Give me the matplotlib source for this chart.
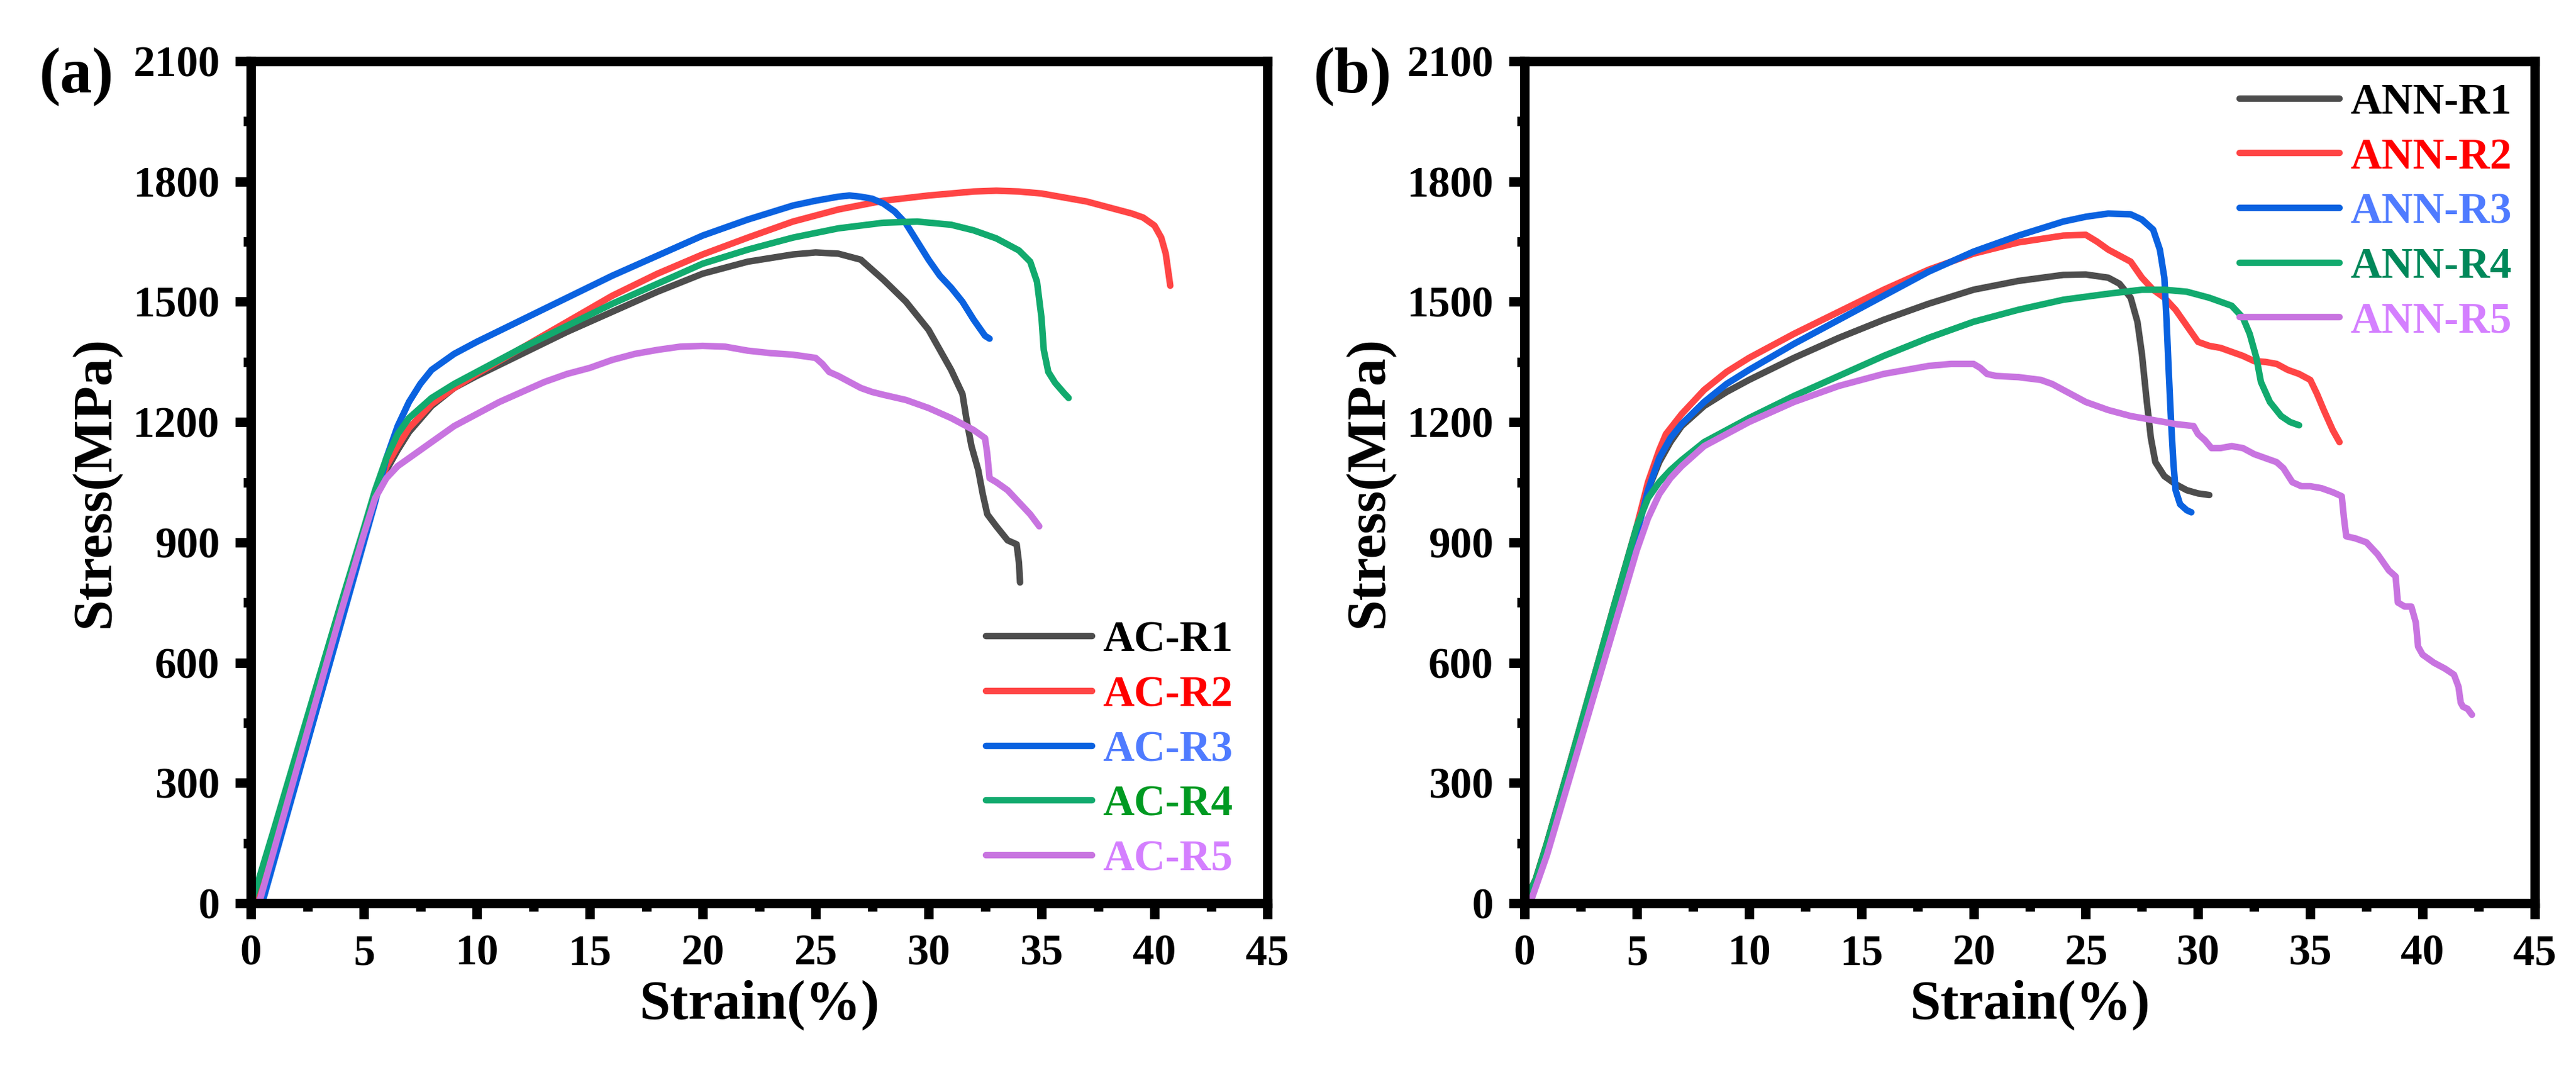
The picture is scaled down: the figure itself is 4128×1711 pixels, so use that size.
import numpy as np
import matplotlib
matplotlib.use('Agg')
import matplotlib.pyplot as plt
from matplotlib.ticker import MultipleLocator

plt.rcParams['font.family'] = ['Liberation Serif', 'DejaVu Serif']
plt.rcParams['font.weight'] = 'bold'

# ---- panel (a): as-cast samples ----
ac_r1_x = [0.2, 0.5, 1, 2, 3, 4, 5, 5.5, 6, 6.5, 7, 8, 9, 10, 12, 14, 16, 18, 20, 22, 24, 25, 26, 27, 27.5,
           28, 29, 30, 30.5, 31, 31.5, 31.7, 31.9, 32.2, 32.4, 32.6, 33, 33.5, 33.9, 34.0, 34.05]
ac_r1_y = [0, 40, 130, 325, 520, 715, 910, 1010, 1080, 1130, 1175, 1240, 1285, 1315, 1370, 1425, 1475, 1525, 1570,
           1600, 1618, 1623, 1620, 1605, 1580, 1555, 1500, 1430, 1380, 1330, 1270, 1200, 1140, 1080, 1020, 970,
           940, 905, 895, 850, 800]

ac_r2_x = [0.2, 0.5, 1, 2, 3, 4, 5, 5.5, 6, 6.5, 7, 8, 9, 10, 12, 14, 16, 18, 20, 22, 24, 26, 28, 30, 32, 33,
           34, 35, 36, 37, 38, 39, 39.5, 40, 40.3, 40.5, 40.6, 40.7]
ac_r2_y = [0, 40, 130, 325, 520, 715, 910, 1010, 1090, 1140, 1185, 1245, 1285, 1320, 1385, 1450, 1515, 1570, 1618,
           1660, 1700, 1730, 1752, 1765, 1775, 1777, 1775, 1770, 1760, 1750, 1735, 1720, 1710, 1690, 1660, 1620,
           1580, 1540]

ac_r3_x = [0.5, 1, 2, 3, 4, 5, 5.5, 6, 6.5, 7, 7.5, 8, 9, 10, 12, 14, 16, 18, 20, 22, 24, 25, 26, 26.5, 27,
           27.5, 28, 28.5, 29, 29.5, 30, 30.5, 31, 31.5, 32, 32.5, 32.7]
ac_r3_y = [0, 100, 300, 500, 700, 900, 1000, 1110, 1190, 1250, 1295, 1330, 1370, 1400, 1455, 1510, 1565, 1615,
           1665, 1705, 1740, 1752, 1762, 1765, 1762, 1757, 1745, 1725, 1695, 1650, 1605, 1565, 1535, 1500, 1455,
           1415, 1408]

ac_r4_x = [0, 0.3, 1, 2, 3, 4, 5, 5.5, 6, 6.5, 7, 8, 9, 10, 12, 14, 16, 18, 20, 22, 24, 26, 28, 29.5, 31, 32,
           33, 34, 34.5, 34.8, 35.0, 35.1, 35.3, 35.6, 36.0, 36.2]
ac_r4_y = [0, 50, 180, 370, 560, 750, 935, 1030, 1110, 1170, 1210, 1260, 1295, 1325, 1385, 1440, 1495, 1545, 1595,
           1630, 1660, 1683, 1697, 1700, 1692, 1678, 1658, 1628, 1600, 1550, 1460, 1380, 1325, 1298, 1272, 1260]

ac_r5_x = [0.36, 1, 2, 3, 4, 5, 5.5, 6, 6.5, 7, 8, 9, 10, 11, 12, 13, 14, 15, 16, 17, 18, 19, 20, 21, 22, 23,
           24, 25, 25.3, 25.6, 26, 26.5, 27, 27.5, 28, 29, 30, 31, 32, 32.5, 32.6, 32.7, 33, 33.5, 34, 34.5, 34.9]
ac_r5_y = [0, 128, 328, 528, 728, 920, 1010, 1060, 1090, 1110, 1150, 1190, 1220, 1250, 1275, 1300, 1320, 1335,
           1355, 1370, 1380, 1388, 1390, 1388, 1378, 1372, 1368, 1360, 1345, 1325, 1315, 1300, 1285, 1275, 1268,
           1255, 1235, 1210, 1180, 1160, 1120, 1060, 1050, 1030, 1000, 970, 940]

# ---- panel (b): annealed samples ----
ann_r1_x = [0, 0.5, 1, 2, 3, 4, 5, 5.5, 6, 6.5, 7, 8, 9, 10, 12, 14, 16, 18, 20, 22, 24, 25, 26, 26.5, 27,
            27.3, 27.5, 27.7, 27.9, 28.1, 28.5, 29, 29.5, 30, 30.5]
ann_r1_y = [0, 60, 150, 345, 540, 735, 930, 1030, 1100, 1150, 1190, 1240, 1275, 1305, 1360, 1410, 1455, 1495,
            1530, 1552, 1567, 1568, 1560, 1545, 1510, 1450, 1370, 1260, 1160, 1100, 1065, 1045, 1030, 1022, 1018]

ann_r2_x = [0, 0.5, 1, 2, 3, 4, 5, 5.5, 6, 6.3, 7, 8, 9, 10, 12, 14, 16, 18, 20, 22, 24, 25, 25.5, 26, 27,
            27.5, 28, 28.5, 29, 29.5, 30, 30.5, 31, 31.5, 32, 32.5, 33, 33.5, 34, 34.5, 35, 35.3, 35.6, 36, 36.3]
ann_r2_y = [0, 60, 150, 345, 545, 745, 940, 1050, 1130, 1170, 1220, 1280, 1325, 1360, 1420, 1475, 1530, 1580,
            1620, 1648, 1665, 1667, 1650, 1630, 1600, 1560, 1530, 1510, 1480, 1440, 1400, 1390, 1385, 1375, 1365,
            1352, 1350, 1345, 1330, 1320, 1305, 1270, 1230, 1180, 1150]

ann_r3_x = [0.2, 1, 2, 3, 4, 5, 5.5, 6, 6.5, 7, 8, 9, 10, 12, 14, 16, 18, 20, 22, 24, 25, 26, 27, 27.5, 28,
            28.3, 28.5, 28.6, 28.7, 28.8, 28.9, 29.0, 29.2, 29.5, 29.7]
ann_r3_y = [0, 130, 330, 525, 720, 920, 1030, 1110, 1160, 1195, 1250, 1295, 1330, 1395, 1455, 1515, 1575, 1625,
            1665, 1700, 1712, 1720, 1718, 1705, 1680, 1630, 1560, 1450, 1320, 1200, 1100, 1030, 995, 980, 975]

ann_r4_x = [0, 0.5, 1, 2, 3, 4, 5, 5.5, 6, 6.5, 7, 8, 9, 10, 12, 14, 16, 18, 20, 22, 24, 26, 27.5, 28.5, 29.5,
            30.5, 31.5, 32, 32.3, 32.6, 32.8, 33.2, 33.7, 34.1, 34.5]
ann_r4_y = [0, 60, 150, 345, 545, 745, 940, 1010, 1050, 1080, 1105, 1150, 1180, 1210, 1265, 1315, 1365, 1410,
            1450, 1480, 1505, 1520, 1530, 1530, 1525, 1510, 1490, 1460, 1420, 1360, 1300, 1250, 1215, 1200, 1192]

ann_r5_x = [0.25, 1, 2, 3, 4, 5, 5.5, 6, 6.5, 7, 8, 9, 10, 11, 12, 13, 14, 15, 16, 17, 18, 19, 20, 20.3, 20.6,
            21, 22, 23, 23.5, 24, 24.5, 25, 25.5, 26, 27, 28, 29, 29.8, 30, 30.3, 30.6, 31, 31.5, 32, 32.5, 33,
            33.5, 33.8, 34.2, 34.6, 35, 35.5, 36, 36.4, 36.5, 36.6, 37, 37.5, 38, 38.5, 38.8, 38.9, 39.2, 39.5,
            39.7, 39.8, 40, 40.5, 41, 41.4, 41.6, 41.7, 41.8, 42, 42.2]
ann_r5_y = [0, 120, 310, 500, 690, 880, 960, 1020, 1060, 1090, 1140, 1170, 1200, 1225, 1250, 1270, 1290, 1305,
            1320, 1330, 1340, 1345, 1345, 1335, 1320, 1315, 1312, 1305, 1295, 1280, 1265, 1250, 1240, 1230, 1215,
            1205, 1195, 1190, 1170, 1155, 1135, 1135, 1140, 1135, 1120, 1110, 1100, 1085, 1050, 1040, 1040, 1035,
            1025, 1015, 960, 915, 910, 900, 870, 830, 815, 750, 740, 740, 700, 640, 620, 600, 585, 570, 540, 500,
            490, 485, 470]

line_colors = ['#4d4d4d', '#ff4545', '#0a62e0', '#12aa6e', '#c874e0']
text_colors_a = ['#000000', '#ff0000', '#4f7bff', '#009a22', '#d47fff']
text_colors_b = ['#000000', '#ff0000', '#4f7bff', '#00885a', '#d47fff']

series_a = [(ac_r1_x, ac_r1_y, 'AC-R1'), (ac_r2_x, ac_r2_y, 'AC-R2'), (ac_r3_x, ac_r3_y, 'AC-R3'),
            (ac_r4_x, ac_r4_y, 'AC-R4'), (ac_r5_x, ac_r5_y, 'AC-R5')]
series_b = [(ann_r1_x, ann_r1_y, 'ANN-R1'), (ann_r2_x, ann_r2_y, 'ANN-R2'), (ann_r3_x, ann_r3_y, 'ANN-R3'),
            (ann_r4_x, ann_r4_y, 'ANN-R4'), (ann_r5_x, ann_r5_y, 'ANN-R5')]

fig = plt.figure(figsize=(41.28, 17.11), dpi=100)
ax_a = fig.add_axes([402/4128, 1-1447/1711, 1629/4128, 1349/1711])
ax_b = fig.add_axes([2443/4128, 1-1447/1711, 1619/4128, 1349/1711])


def style_axes(ax):
    ax.set_xlim(0, 45)
    ax.set_ylim(0, 2100)
    ax.xaxis.set_major_locator(MultipleLocator(5))
    ax.xaxis.set_minor_locator(MultipleLocator(2.5))
    ax.yaxis.set_major_locator(MultipleLocator(300))
    ax.yaxis.set_minor_locator(MultipleLocator(150))
    for s in ax.spines.values():
        s.set_linewidth(11)
    ax.tick_params(which='major', direction='out', length=18, width=11, labelsize=50, pad=18,
                   top=False, right=False)
    ax.tick_params(which='minor', direction='out', length=9, width=11, top=False, right=False)
    ax.set_xlabel('Strain(%)', fontsize=64, fontweight='bold', labelpad=6)
    ax.set_ylabel('Stress(MPa)', fontsize=64, fontweight='bold', labelpad=14)


for ax, series in [(ax_a, series_a), (ax_b, series_b)]:
    for (x, y, name), c in zip(series, line_colors):
        ax.plot(x, y, color=c, lw=7.5, label=name, solid_capstyle='round', solid_joinstyle='round')
    style_axes(ax)

leg_a = ax_a.legend(loc='lower right', bbox_to_anchor=(0.966, 0.028), frameon=False, fontsize=50,
                    handlelength=2.45, handletextpad=0.25, labelspacing=0.34, borderpad=0, borderaxespad=0)
leg_b = ax_b.legend(loc='upper right', bbox_to_anchor=(0.977, 0.974), frameon=False, fontsize=50,
                    handlelength=2.3, handletextpad=0.25, labelspacing=0.34, borderpad=0, borderaxespad=0)
for leg, tcols in [(leg_a, text_colors_a), (leg_b, text_colors_b)]:
    for t, c in zip(leg.get_texts(), tcols):
        t.set_color(c)
        t.set_fontweight('bold')

fig.text(122/4128, 1-123/1711, '(a)', fontsize=74, fontweight='bold', ha='center', va='center')
fig.text(2167/4128, 1-123/1711, '(b)', fontsize=74, fontweight='bold', ha='center', va='center')

fig.savefig('out.png', dpi=100)
